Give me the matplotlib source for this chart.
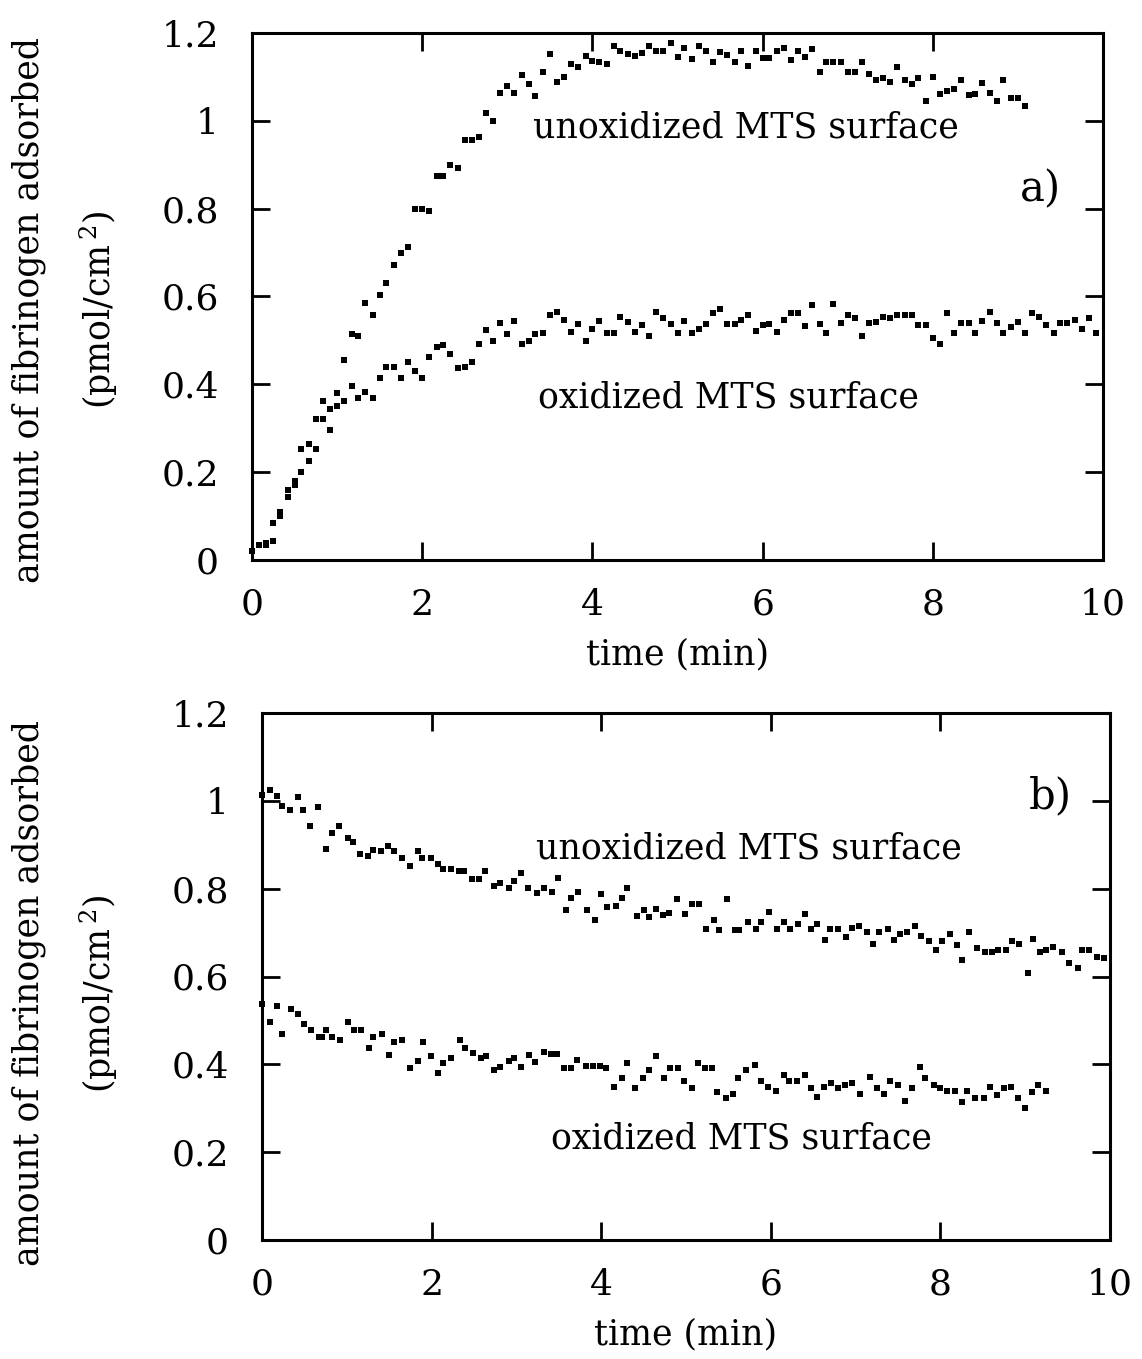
import matplotlib
matplotlib.use("Agg")
import matplotlib.pyplot as plt
from matplotlib.ticker import FixedLocator, FixedFormatter

plt.rcParams['font.family'] = ['DejaVu Serif']
plt.rcParams['mathtext.fontset'] = 'dejavuserif'

# ---------------- data: panel a (adsorption) ----------------
a_unox_t = [0.00, 0.08, 0.17, 0.25, 0.33, 0.42, 0.50, 0.58, 0.67, 0.75,
            0.83, 0.92, 1.00, 1.08, 1.17, 1.25, 1.33, 1.42, 1.50, 1.58,
            1.67, 1.75, 1.83, 1.92, 2.00, 2.08, 2.17, 2.25, 2.33, 2.42,
            2.50, 2.58, 2.67, 2.75, 2.83, 2.92, 3.00, 3.08, 3.17, 3.25,
            3.33, 3.42, 3.50, 3.58, 3.67, 3.75, 3.83, 3.92, 4.00, 4.08,
            4.17, 4.25, 4.33, 4.42, 4.50, 4.58, 4.67, 4.75, 4.83, 4.92,
            5.00, 5.08, 5.17, 5.25, 5.33, 5.42, 5.50, 5.58, 5.67, 5.75,
            5.83, 5.92, 6.00, 6.08, 6.17, 6.25, 6.33, 6.42, 6.50, 6.58,
            6.67, 6.75, 6.83, 6.92, 7.00, 7.08, 7.17, 7.25, 7.33, 7.42,
            7.50, 7.58, 7.67, 7.75, 7.83, 7.92, 8.00, 8.08, 8.17, 8.25,
            8.33, 8.42, 8.50, 8.58, 8.67, 8.75, 8.83, 8.92, 9.00, 9.08]
a_unox_v = [0.020, 0.035, 0.035, 0.085, 0.110, 0.160, 0.180, 0.253, 0.265, 0.320,
            0.362, 0.344, 0.380, 0.455, 0.514, 0.510, 0.585, 0.557, 0.603, 0.631,
            0.672, 0.700, 0.713, 0.800, 0.800, 0.794, 0.875, 0.875, 0.900, 0.893,
            0.956, 0.956, 0.964, 1.017, 1.000, 1.063, 1.080, 1.063, 1.104, 1.085,
            1.057, 1.111, 1.152, 1.088, 1.099, 1.130, 1.122, 1.148, 1.137, 1.133,
            1.130, 1.171, 1.160, 1.152, 1.148, 1.155, 1.171, 1.160, 1.160, 1.177,
            1.145, 1.165, 1.141, 1.171, 1.158, 1.133, 1.156, 1.150, 1.133, 1.160,
            1.124, 1.160, 1.142, 1.142, 1.160, 1.165, 1.139, 1.158, 1.145, 1.164,
            1.111, 1.133, 1.133, 1.133, 1.111, 1.111, 1.135, 1.107, 1.092, 1.097,
            1.088, 1.122, 1.092, 1.084, 1.097, 1.046, 1.099, 1.061, 1.069, 1.073,
            1.092, 1.059, 1.061, 1.086, 1.064, 1.046, 1.094, 1.052, 1.052, 1.033]

a_ox_t = [0.00, 0.08, 0.17, 0.25, 0.33, 0.42, 0.50, 0.58, 0.67, 0.75,
          0.83, 0.92, 1.00, 1.08, 1.17, 1.25, 1.33, 1.42, 1.50, 1.58,
          1.67, 1.75, 1.83, 1.92, 2.00, 2.08, 2.17, 2.25, 2.33, 2.42,
          2.50, 2.58, 2.67, 2.75, 2.83, 2.92, 3.00, 3.08, 3.17, 3.25,
          3.33, 3.42, 3.50, 3.58, 3.67, 3.75, 3.83, 3.92, 4.00, 4.08,
          4.17, 4.25, 4.33, 4.42, 4.50, 4.58, 4.67, 4.75, 4.83, 4.92,
          5.00, 5.08, 5.17, 5.25, 5.33, 5.42, 5.50, 5.58, 5.67, 5.75,
          5.83, 5.92, 6.00, 6.08, 6.17, 6.25, 6.33, 6.42, 6.50, 6.58,
          6.67, 6.75, 6.83, 6.92, 7.00, 7.08, 7.17, 7.25, 7.33, 7.42,
          7.50, 7.58, 7.67, 7.75, 7.83, 7.92, 8.00, 8.08, 8.17, 8.25,
          8.33, 8.42, 8.50, 8.58, 8.67, 8.75, 8.83, 8.92, 9.00, 9.08,
          9.17, 9.25, 9.33, 9.42, 9.50, 9.58, 9.67, 9.75, 9.83, 9.92]
a_ox_v = [0.020, 0.035, 0.038, 0.044, 0.100, 0.143, 0.170, 0.200, 0.225, 0.253,
          0.320, 0.297, 0.350, 0.362, 0.396, 0.369, 0.383, 0.369, 0.415, 0.440,
          0.440, 0.415, 0.450, 0.430, 0.415, 0.463, 0.485, 0.490, 0.468, 0.437,
          0.440, 0.450, 0.492, 0.523, 0.498, 0.539, 0.515, 0.545, 0.492, 0.498,
          0.515, 0.516, 0.559, 0.565, 0.546, 0.520, 0.538, 0.498, 0.527, 0.544,
          0.516, 0.518, 0.554, 0.541, 0.520, 0.536, 0.511, 0.565, 0.552, 0.538,
          0.516, 0.544, 0.516, 0.527, 0.538, 0.562, 0.571, 0.538, 0.538, 0.546,
          0.558, 0.521, 0.534, 0.538, 0.520, 0.546, 0.562, 0.562, 0.532, 0.580,
          0.538, 0.516, 0.584, 0.539, 0.558, 0.550, 0.511, 0.539, 0.542, 0.554,
          0.550, 0.558, 0.558, 0.558, 0.536, 0.536, 0.505, 0.491, 0.562, 0.516,
          0.539, 0.539, 0.516, 0.544, 0.565, 0.539, 0.516, 0.531, 0.542, 0.516,
          0.562, 0.554, 0.536, 0.516, 0.539, 0.539, 0.547, 0.527, 0.550, 0.516]

# ---------------- data: panel b (desorption) ----------------
b_unox_t = [0.00, 0.10, 0.18, 0.24, 0.33, 0.42, 0.48, 0.57, 0.66, 0.76,
            0.82, 0.91, 1.01, 1.07, 1.15, 1.25, 1.31, 1.40, 1.49, 1.56,
            1.65, 1.74, 1.84, 1.89, 1.99, 2.08, 2.13, 2.23, 2.32, 2.38,
            2.48, 2.56, 2.63, 2.73, 2.81, 2.91, 2.97, 3.06, 3.14, 3.24,
            3.33, 3.42, 3.49, 3.58, 3.64, 3.73, 3.83, 3.93, 4.00, 4.07,
            4.17, 4.25, 4.31, 4.42, 4.50, 4.56, 4.65, 4.73, 4.80, 4.89,
            4.99, 5.07, 5.15, 5.23, 5.33, 5.39, 5.48, 5.58, 5.63, 5.73,
            5.83, 5.89, 5.98, 6.07, 6.16, 6.23, 6.32, 6.40, 6.47, 6.55,
            6.64, 6.70, 6.79, 6.89, 6.96, 7.04, 7.13, 7.20, 7.28, 7.38,
            7.45, 7.52, 7.61, 7.70, 7.77, 7.87, 7.95, 8.02, 8.11, 8.20,
            8.26, 8.34, 8.43, 8.53, 8.61, 8.68, 8.77, 8.84, 8.93, 9.03,
            9.09, 9.17, 9.25, 9.33, 9.43, 9.52, 9.62, 9.67, 9.75, 9.85,
            9.93]
b_unox_v = [1.014, 1.025, 1.012, 0.988, 0.978, 1.008, 0.978, 0.943, 0.985, 0.890,
            0.926, 0.943, 0.915, 0.907, 0.879, 0.875, 0.887, 0.886, 0.898, 0.886,
            0.869, 0.852, 0.886, 0.869, 0.869, 0.856, 0.845, 0.845, 0.841, 0.841,
            0.822, 0.822, 0.840, 0.806, 0.812, 0.801, 0.818, 0.835, 0.801, 0.790,
            0.801, 0.793, 0.824, 0.752, 0.778, 0.793, 0.752, 0.729, 0.787, 0.758,
            0.760, 0.778, 0.801, 0.737, 0.752, 0.735, 0.753, 0.740, 0.745, 0.776,
            0.742, 0.765, 0.765, 0.708, 0.729, 0.706, 0.776, 0.706, 0.706, 0.725,
            0.708, 0.725, 0.748, 0.708, 0.724, 0.708, 0.720, 0.743, 0.708, 0.720,
            0.683, 0.708, 0.708, 0.690, 0.710, 0.714, 0.702, 0.673, 0.702, 0.708,
            0.683, 0.697, 0.702, 0.714, 0.693, 0.680, 0.661, 0.680, 0.697, 0.672,
            0.638, 0.702, 0.665, 0.655, 0.655, 0.660, 0.660, 0.680, 0.675, 0.609,
            0.685, 0.655, 0.661, 0.668, 0.655, 0.630, 0.619, 0.660, 0.660, 0.644,
            0.642]

b_ox_t = [0.00, 0.09, 0.18, 0.24, 0.34, 0.43, 0.50, 0.58, 0.67, 0.71,
          0.76, 0.83, 0.92, 1.01, 1.08, 1.17, 1.26, 1.31, 1.41, 1.50,
          1.56, 1.65, 1.75, 1.84, 1.90, 1.99, 2.08, 2.14, 2.23, 2.33,
          2.39, 2.49, 2.58, 2.64, 2.73, 2.81, 2.91, 2.97, 3.06, 3.15,
          3.22, 3.33, 3.41, 3.48, 3.56, 3.64, 3.72, 3.82, 3.90, 3.98,
          4.06, 4.15, 4.25, 4.31, 4.40, 4.49, 4.56, 4.65, 4.74, 4.81,
          4.90, 4.98, 5.07, 5.14, 5.22, 5.31, 5.37, 5.47, 5.56, 5.61,
          5.71, 5.81, 5.88, 5.97, 6.06, 6.15, 6.22, 6.31, 6.40, 6.47,
          6.54, 6.63, 6.71, 6.79, 6.87, 6.96, 7.05, 7.17, 7.25, 7.33,
          7.40, 7.50, 7.58, 7.66, 7.76, 7.82, 7.92, 8.00, 8.08, 8.17,
          8.25, 8.31, 8.41, 8.51, 8.59, 8.67, 8.75, 8.83, 8.92, 9.00,
          9.08, 9.15, 9.25]
b_ox_v = [0.538, 0.497, 0.532, 0.468, 0.525, 0.514, 0.491, 0.478, 0.462, 0.462,
          0.478, 0.462, 0.456, 0.496, 0.478, 0.478, 0.438, 0.462, 0.468, 0.421,
          0.450, 0.456, 0.391, 0.408, 0.450, 0.420, 0.380, 0.402, 0.415, 0.456,
          0.437, 0.425, 0.414, 0.420, 0.386, 0.393, 0.408, 0.414, 0.393, 0.421,
          0.405, 0.427, 0.424, 0.424, 0.391, 0.391, 0.410, 0.396, 0.396, 0.396,
          0.391, 0.349, 0.368, 0.404, 0.345, 0.368, 0.386, 0.418, 0.368, 0.391,
          0.391, 0.361, 0.345, 0.404, 0.391, 0.391, 0.338, 0.323, 0.333, 0.368,
          0.386, 0.399, 0.363, 0.349, 0.340, 0.376, 0.363, 0.363, 0.376, 0.345,
          0.326, 0.349, 0.357, 0.345, 0.352, 0.357, 0.333, 0.372, 0.345, 0.333,
          0.362, 0.354, 0.317, 0.345, 0.393, 0.368, 0.354, 0.345, 0.340, 0.340,
          0.315, 0.340, 0.323, 0.323, 0.349, 0.330, 0.345, 0.349, 0.323, 0.300,
          0.338, 0.354, 0.340]

x_ticks = [0, 2, 4, 6, 8, 10]
x_ticklabels = ["0", "2", "4", "6", "8", "10"]
y_ticks = [0, 0.2, 0.4, 0.6, 0.8, 1.0, 1.2]
y_ticklabels = ["0", "0.2", "0.4", "0.6", "0.8", "1", "1.2"]

FS = 25
TFS = 26
W, H = 1142, 1359
fig = plt.figure(figsize=(W / 100, H / 100), dpi=100)
fig.patch.set_facecolor("white")

ax_a = fig.add_axes([252 / W, 1 - 560 / H, 851 / W, 527 / H])
ax_b = fig.add_axes([262 / W, 1 - 1240 / H, 848 / W, 527 / H])


def style(ax, label_x, label_y):
    ax.set_xlim(0, 10)
    ax.set_ylim(0, 1.2)
    ax.xaxis.set_major_locator(FixedLocator(x_ticks))
    ax.xaxis.set_major_formatter(FixedFormatter(x_ticklabels))
    ax.yaxis.set_major_locator(FixedLocator(y_ticks))
    ax.yaxis.set_major_formatter(FixedFormatter(y_ticklabels))
    ax.tick_params(direction="in", length=13, width=2.0, top=True, right=True,
                   labelsize=TFS, colors="black")
    ax.tick_params(axis="x", pad=20)
    ax.tick_params(axis="y", pad=24)
    for s in ax.spines.values():
        s.set_linewidth(2.2)
        s.set_color("black")
    ax.set_xlabel("time (min)", fontsize=FS, labelpad=11)
    ax.set_ylabel("amount of fibrinogen adsorbed\n(pmol/cm$^{\\,2}$)",
                  fontsize=FS, linespacing=1.95)
    ax.yaxis.set_label_coords(label_x, label_y)


mk = dict(marker="s", linestyle="none", markersize=4.6, color="black",
          markeredgewidth=0, clip_on=False)

ax_a.plot(a_unox_t, a_unox_v, **mk)
ax_a.plot(a_ox_t, a_ox_v, **mk)
style(ax_a, (120 - 252) / 851, 0.475)
ax_a.text(5.8, 0.985, "unoxidized MTS surface", fontsize=FS, ha="center", va="center")
ax_a.text(5.6, 0.37, "oxidized MTS surface", fontsize=FS, ha="center", va="center")
ax_a.text(9.27, 0.845, "a)", fontsize=FS + 5, ha="center", va="center")

ax_b.plot(b_unox_t, b_unox_v, **mk)
ax_b.plot(b_ox_t, b_ox_v, **mk)
style(ax_b, (120 - 262) / 848, 0.468)
ax_b.text(5.74, 0.892, "unoxidized MTS surface", fontsize=FS, ha="center", va="center")
ax_b.text(5.65, 0.232, "oxidized MTS surface", fontsize=FS, ha="center", va="center")
ax_b.text(9.29, 1.01, "b)", fontsize=FS + 5, ha="center", va="center")

fig.savefig("out.png", dpi=100, facecolor="white")
